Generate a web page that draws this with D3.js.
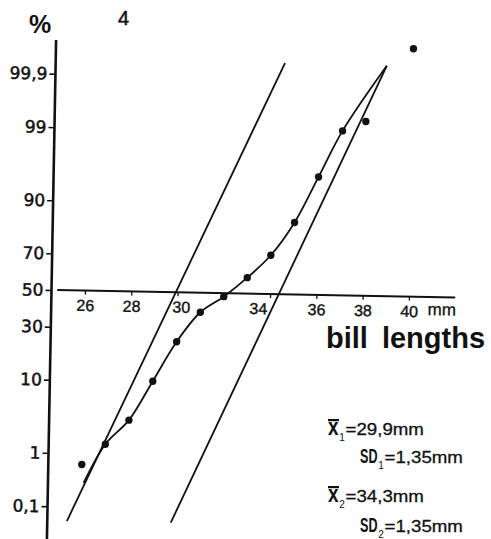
<!DOCTYPE html>
<html>
<head>
<meta charset="utf-8">
<script src="https://cdn.jsdelivr.net/npm/d3@7"></script>
<style>
  body { margin: 0; background: #fff; }
  svg { display: block; }
</style>
</head>
<body>
<svg width="491" height="539"></svg>
<script>
// bill length (mm) vs cumulative % on probability paper
const pointMm  = [26, 27, 28, 29, 30, 31, 32, 33, 34, 35, 36, 37, 38, 40];
const pointPct = [0.65, 1.43, 3.3, 10.1, 24, 39, 48, 59, 71, 84.8, 95.4, 99.06, 99.36, 99.98];

// hand drawn curve through the points
const curveMm  = [26.09, 27, 28, 29, 30, 31, 32, 33, 34, 35, 36, 37, 38.86];
const curvePct = [0.3, 1.43, 3.3, 10.1, 24, 39, 48, 59, 71, 84.8, 95.4, 99.06, 99.95];

// the two fitted normal lines (x1 = 29.9, x2 = 34.3, SD = 1.35)
const line1Mm  = [25.40, 34.46];
const line1Pct = [0.049, 99.952];
const line2Mm  = [29.89, 38.86];
const line2Pct = [0.05, 99.95];

const yTickPct  = [0.1, 1, 10, 30, 50, 70, 90, 99, 99.9];
const yTickText = ["0,1", "1", "10", "30", "50", "70", "90", "99", "99,9"];
const xTicks    = [26, 28, 30, 32, 34, 36, 38, 40];
const xTickText = ["26", "28", "30", "", "34", "36", "38", "40"];

// inverse normal cdf (Acklam) for the probability axis
function probit(p) {
  const a = [-3.969683028665376e+01, 2.209460984245205e+02, -2.759285104469687e+02, 1.383577518672690e+02, -3.066479806614716e+01, 2.506628277459239e+00];
  const b = [-5.447609879822406e+01, 1.615858368580409e+02, -1.556989798598866e+02, 6.680131188771972e+01, -1.328068155288572e+01];
  const c = [-7.784894002430293e-03, -3.223964580411365e-01, -2.400758277161838e+00, -2.549732539343734e+00, 4.374664141464968e+00, 2.938163982698783e+00];
  const d = [7.784695709041462e-03, 3.224671290700398e-01, 2.445134137142996e+00, 3.754408661907416e+00];
  const pl = 0.02425;
  let q, r;
  if (p < pl) {
    q = Math.sqrt(-2 * Math.log(p));
    return (((((c[0]*q+c[1])*q+c[2])*q+c[3])*q+c[4])*q+c[5]) / ((((d[0]*q+d[1])*q+d[2])*q+d[3])*q+1);
  }
  if (p > 1 - pl) {
    q = Math.sqrt(-2 * Math.log(1 - p));
    return -(((((c[0]*q+c[1])*q+c[2])*q+c[3])*q+c[4])*q+c[5]) / ((((d[0]*q+d[1])*q+d[2])*q+d[3])*q+1);
  }
  q = p - 0.5; r = q * q;
  return (((((a[0]*r+a[1])*r+a[2])*r+a[3])*r+a[4])*r+a[5])*q / (((((b[0]*r+b[1])*r+b[2])*r+b[3])*r+b[4])*r+1);
}

const ink = "#111";
const svg = d3.select("svg");

var x = d3.scaleLinear().domain([26, 40]).range([85, 409]);
var z = d3.scaleLinear().domain([0, 1]).range([290, 220]);
const py = p => z(probit(p / 100));
const axisX = 51.5;

// the scanned figure sits about one degree off
const g = svg.append("g").attr("transform", "rotate(1.05," + axisX + ",290)");

// y axis
g.append("line")
  .attr("x1", axisX).attr("x2", axisX)
  .attr("y1", 40).attr("y2", 545)
  .attr("stroke", ink).attr("stroke-width", 2.6);

const yAxis = g.append("g")
  .attr("transform", "translate(" + axisX + ",0)")
  .call(d3.axisLeft(z)
    .tickValues(yTickPct.map(p => probit(p / 100)))
    .tickFormat((d, i) => yTickText[i])
    .tickSize(6).tickPadding(2));
yAxis.select(".domain").remove();
yAxis.selectAll("line").attr("stroke", ink).attr("stroke-width", 1.6);
yAxis.selectAll("text")
  .attr("fill", ink)
  .attr("stroke", ink).attr("stroke-width", 0.5)
  .style("font-family", "'DejaVu Sans', sans-serif")
  .style("font-size", "17px");

// x axis along the 50 % line
g.append("line")
  .attr("x1", x(24.8)).attr("x2", x(42))
  .attr("y1", z(0)).attr("y2", z(0))
  .attr("stroke", ink).attr("stroke-width", 2);

const xAxis = g.append("g")
  .attr("transform", "translate(0," + z(0) + ")")
  .call(d3.axisBottom(x)
    .tickValues(xTicks)
    .tickFormat((d, i) => xTickText[i])
    .tickSize(4).tickPadding(5));
xAxis.select(".domain").remove();
xAxis.selectAll("line").attr("stroke", ink).attr("stroke-width", 1.3);
xAxis.selectAll("text")
  .attr("fill", ink)
  .attr("stroke", ink).attr("stroke-width", 0.4)
  .style("font-family", "'Liberation Sans', Arial, sans-serif")
  .style("font-size", "16px")
  .attr("dx", d => d === 30 ? 3.5 : d === 34 ? -12 : 0);

g.append("text")
  .attr("x", x(40) + 19).attr("y", z(0) + 18)
  .attr("fill", ink)
  .attr("stroke", ink).attr("stroke-width", 0.3)
  .style("font-family", "'Liberation Sans', Arial, sans-serif")
  .style("font-size", "17px")
  .text("mm");

// fitted straight lines
const straight = d3.line().x(d => x(d[0])).y(d => py(d[1]));
[[line1Mm, line1Pct], [line2Mm, line2Pct]].forEach(function(l) {
  g.append("path")
    .datum(d3.zip(l[0], l[1]))
    .attr("d", straight)
    .attr("fill", "none")
    .attr("stroke", ink).attr("stroke-width", 1.8);
});

// curve
g.append("path")
  .datum(d3.zip(curveMm, curvePct))
  .attr("d", d3.line().x(d => x(d[0])).y(d => py(d[1])).curve(d3.curveCatmullRom.alpha(0.5)))
  .attr("fill", "none")
  .attr("stroke", ink).attr("stroke-width", 1.8);

// observed points
g.selectAll("circle")
  .data(d3.zip(pointMm, pointPct))
  .join("circle")
  .attr("cx", d => x(d[0]))
  .attr("cy", d => py(d[1]))
  .attr("r", 3.7)
  .attr("fill", ink);

// free text, placed straight
const sans = "'Liberation Sans', Arial, sans-serif";
svg.append("text").attr("x", 29).attr("y", 33).attr("fill", ink)
  .style("font-family", sans).style("font-weight", "bold").style("font-size", "25px").text("%");
svg.append("text").attr("x", 118).attr("y", 25).attr("fill", ink)
  .attr("stroke", ink).attr("stroke-width", 0.5)
  .style("font-family", sans).style("font-size", "20px").text("4");

svg.append("text").attr("x", 326).attr("y", 348).attr("fill", ink)
  .style("font-family", sans).style("font-weight", "bold").style("font-size", "29px")
  .text("bill").append("tspan").attr("dx", 14).text("lengths");

// mean / SD notes: squeeze / stretch each piece with a scale transform
function piece(xPos, yPos, sx, size, bold, txt) {
  return svg.append("text")
    .attr("transform", "translate(" + xPos + "," + yPos + ") scale(" + sx + ",1)")
    .attr("fill", ink)
    .style("font-family", sans)
    .style("font-size", size + "px")
    .style("font-weight", bold ? "bold" : "normal")
    .text(txt);
}
function note(xPos, base, head, sub, rest, bar) {
  const isX = head === "x";
  const w = isX ? 10.5 : 17.5;
  if (isX) piece(xPos, base, 0.79, 24, true, head);
  else piece(xPos, base, 0.6, 21, true, head);
  piece(xPos + w + 0.8, base + 6, 1, 10, false, sub);
  piece(xPos + w + 7, base - 0.5, 1.1, 17, false, rest).attr("stroke", ink).attr("stroke-width", 0.3);
  if (bar) svg.append("rect").attr("x", xPos).attr("y", base - 16).attr("width", 11).attr("height", 2.2).attr("fill", ink);
}
note(328, 435, "x", "1", "=29,9mm", true);
note(360, 463, "SD", "1", "=1,35mm", false);
note(328, 502, "x", "2", "=34,3mm", true);
note(360, 532, "SD", "2", "=1,35mm", false);
</script>
</body>
</html>
